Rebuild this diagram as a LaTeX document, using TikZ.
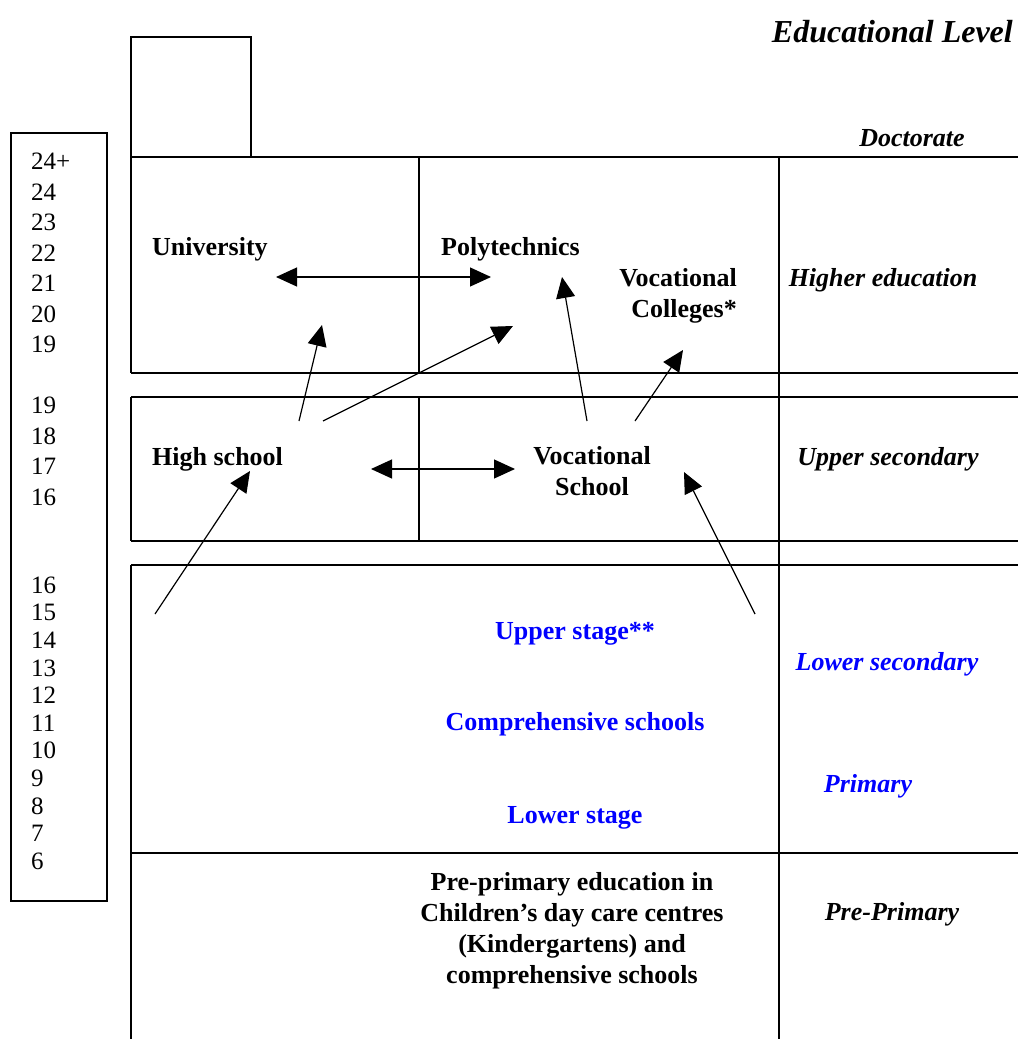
\documentclass[tikz,border=0pt]{standalone}
\usepackage{fontspec}
\setmainfont{Liberation Serif}
\usetikzlibrary{arrows.meta}

\definecolor{stageblue}{RGB}{0,0,255}

\tikzset{
  rule/.style={line width=1.6pt},
  flow/.style={line width=1.2pt,-{Triangle[length=21pt,width=19pt]}},
  twoway/.style={line width=1.2pt,{Triangle[length=21pt,width=19pt]}-{Triangle[length=21pt,width=19pt]}},
  school/.style={font=\fontsize{26}{31}\selectfont\bfseries,inner sep=0pt},
  stage/.style={school,text=stageblue},
  level/.style={font=\fontsize{26}{31}\selectfont\bfseries\itshape,inner sep=0pt},
  age/.style={font=\fontsize{25}{30.5}\selectfont,inner sep=0pt,align=left,anchor=north west},
}

\begin{document}
\begin{tikzpicture}[x=1pt,y=1pt,yscale=-1,xscale=1]
\useasboundingbox (0,0) rectangle (1018,1039);

%Shape: Rectangle (ages)
\draw [rule] (11,133) rectangle (107,901) ;
%Shape: Rectangle (doctorate)
\draw [rule] (131,37) rectangle (251,157) ;

%Straight Lines (bands)
\draw [rule] (131,157) -- (1018,157) ;
\draw [rule] (131,373) -- (1018,373) ;
\draw [rule] (131,397) -- (1018,397) ;
\draw [rule] (131,541) -- (1018,541) ;
\draw [rule] (131,565) -- (1018,565) ;
\draw [rule] (131,853) -- (1018,853) ;
%Straight Lines (columns)
\draw [rule] (131,157) -- (131,373) ;
\draw [rule] (131,397) -- (131,541) ;
\draw [rule] (131,565) -- (131,1039) ;
\draw [rule] (419,157) -- (419,373) ;
\draw [rule] (419,397) -- (419,541) ;
\draw [rule] (779,157) -- (779,1039) ;

%Text (ages)
\node [age] (agesUpper) at (31,153) {24+\\24\\23\\22\\21\\20\\19\\[30.5pt]19\\18\\17\\16};
\node [age,font=\fontsize{25}{27.6}\selectfont] (agesLower) at (31,576.5) {16\\15\\14\\13\\12\\11\\10\\9\\8\\7\\6};

%Text (levels)
\node [level,font=\fontsize{32}{36}\selectfont\bfseries\itshape,anchor=mid east] (title) at (1013,40) {Educational Level};
\node [level,anchor=mid] (doctorate) at (912,144) {Doctorate};
\node [level,anchor=mid] (higher) at (883,284) {Higher education};
\node [level,anchor=mid] (upperSec) at (888,463) {Upper secondary};
\node [level,anchor=mid,text=stageblue] (lowerSec) at (887,668) {Lower secondary};
\node [level,anchor=mid,text=stageblue] (primary) at (868,790) {Primary};
\node [level,anchor=mid] (prePrimary) at (892,918) {Pre-Primary};

%Text (schools)
\node [school,anchor=mid west] (university) at (152,253) {University};
\node [school,anchor=mid west] (polytechnics) at (441,253) {Polytechnics};
\node [school,align=right,anchor=center] (vocColleges) at (678,296) {Vocational\\Colleges*};
\node [school,anchor=mid west] (highSchool) at (152,463) {High school};
\node [school,align=center,anchor=center] (vocSchool) at (592,471) {Vocational\\School};
\node [stage,anchor=mid] (upperStage) at (575,637) {Upper stage**};
\node [stage,anchor=mid] (comprehensive) at (575,728) {Comprehensive schools};
\node [stage,anchor=mid] (lowerStage) at (575,821) {Lower stage};
\node [school,align=center,anchor=center] (preText) at (572,930.5) {Pre-primary education in\\Children’s day care centres\\(Kindergartens) and\\comprehensive schools};

%Arrow ends
\coordinate (uniEnd) at (276,277);
\coordinate (polyEnd) at (491,277);
\coordinate (hsTopA) at (299,421);
\coordinate (hsTopB) at (323,421);
\coordinate (uniIn) at (322,325);
\coordinate (polyInA) at (513,326);
\coordinate (vsTopA) at (587,421);
\coordinate (vsTopB) at (635,421);
\coordinate (polyInB) at (562,277);
\coordinate (vcIn) at (683,350);
\coordinate (hsEnd) at (371,469);
\coordinate (vsEnd) at (515,469);
\coordinate (lowerL) at (155,614);
\coordinate (hsIn) at (250,471);
\coordinate (lowerR) at (755,614);
\coordinate (vsIn) at (684,472);

%Straight Lines (paths)
\draw [twoway] (uniEnd) -- (polyEnd) ;
\draw [flow] (hsTopA) -- (uniIn) ;
\draw [flow] (hsTopB) -- (polyInA) ;
\draw [flow] (vsTopA) -- (polyInB) ;
\draw [flow] (vsTopB) -- (vcIn) ;
\draw [twoway] (hsEnd) -- (vsEnd) ;
\draw [flow] (lowerL) -- (hsIn) ;
\draw [flow] (lowerR) -- (vsIn) ;

\end{tikzpicture}
\end{document}
